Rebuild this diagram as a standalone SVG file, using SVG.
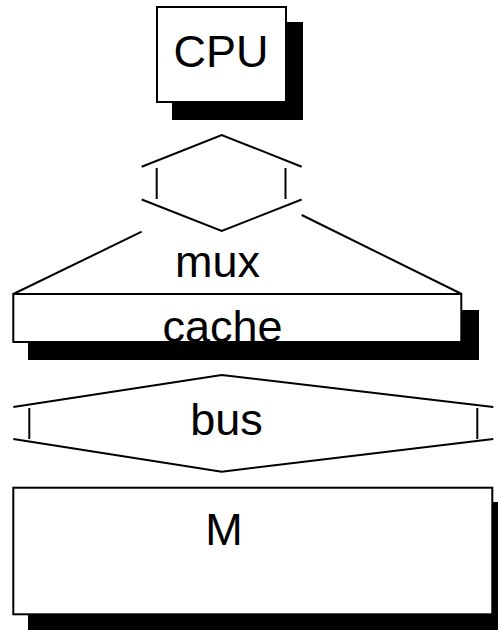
<svg xmlns="http://www.w3.org/2000/svg" width="498" height="631" viewBox="0 0 498 631">
  <style>
    .shadow { fill: #000; }
    .box { fill: #fff; stroke: #000; stroke-width: 2; }
    .line { fill: none; stroke: #000; stroke-width: 2; stroke-linecap: butt; }
    .label { font-family: "Liberation Sans", Arial, sans-serif; font-size: 45px; fill: #000; text-anchor: middle; }
  </style>
  <rect width="498" height="631" fill="#fff"/>

  <!-- CPU -->
  <g id="cpu">
    <rect class="shadow" x="172" y="22" width="131" height="98"/>
    <rect class="box" x="157" y="7" width="129" height="95"/>
    <text class="label" x="221" y="67">CPU</text>
  </g>

  <!-- link between CPU and mux -->
  <g id="link">
    <path class="line" d="M141.7,166.7 L221.7,135 L301.7,166.7"/>
    <path class="line" d="M141.7,199.5 L221.7,231 L301.7,199.5"/>
    <path class="line" d="M156.7,168 V199"/>
    <path class="line" d="M285.5,168 V199"/>
  </g>

  <!-- mux -->
  <g id="mux">
    <path class="line" d="M141.7,231.7 L13.3,294"/>
    <path class="line" d="M301.7,215 L461.7,294"/>
    <text class="label" x="217.5" y="277">mux</text>
  </g>

  <!-- cache -->
  <g id="cache">
    <rect class="shadow" x="28" y="310" width="451" height="50"/>
    <rect class="box" x="13.3" y="294" width="448" height="48"/>
    <text class="label" x="222.5" y="342">cache</text>
  </g>

  <!-- bus -->
  <g id="bus">
    <path class="line" d="M13.3,407 L221.7,375 L493.3,407"/>
    <path class="line" d="M13.3,439 L221.7,471.7 L493.3,439"/>
    <path class="line" d="M29.3,408 V439"/>
    <path class="line" d="M477.3,408 V439"/>
    <text class="label" x="226.5" y="435">bus</text>
  </g>

  <!-- memory -->
  <g id="memory">
    <rect class="shadow" x="28" y="502" width="472" height="128"/>
    <rect class="box" x="13.3" y="487.7" width="479" height="126.6"/>
    <text class="label" x="224" y="545">M</text>
  </g>
</svg>
